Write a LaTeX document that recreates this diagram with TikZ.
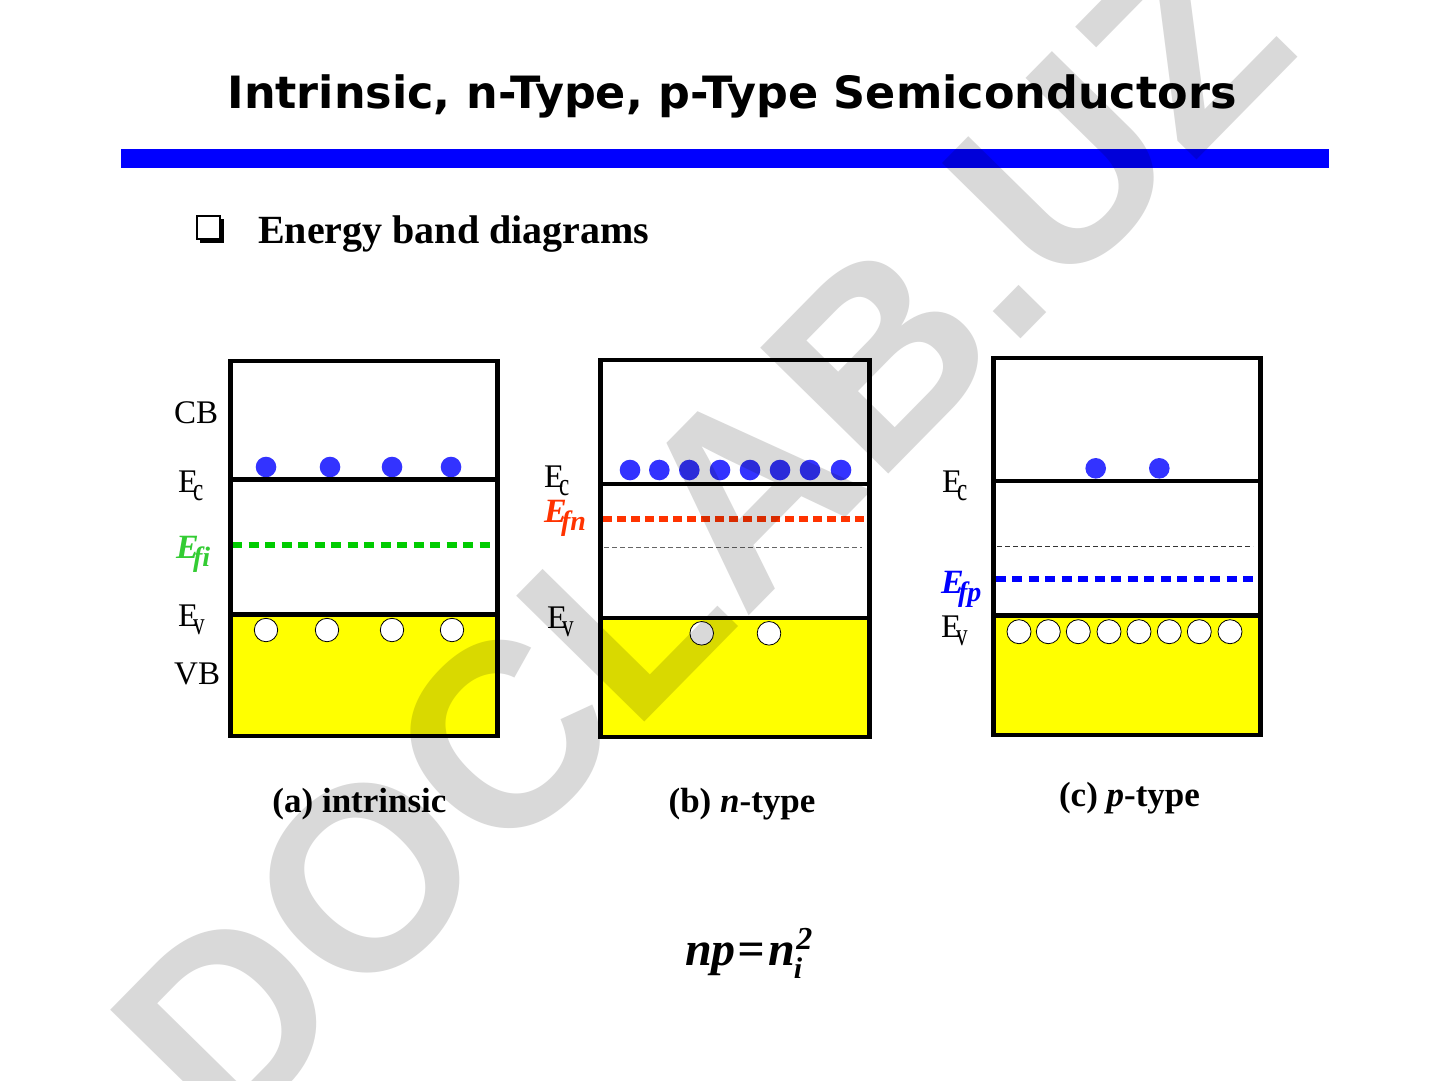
\documentclass[tikz,border=0pt]{standalone}
\usepackage{fontspec}
\setmainfont{Liberation Serif}
\newfontfamily\titlefont{DejaVu Sans}
\newfontfamily\wmfont{Liberation Sans}
\usepackage{graphicx}
\newcommand\fs[1]{\fontsize{#1}{#1}\selectfont}
% regular subscript (E_c, E_v)
\newcommand\rsub[1]{\kern-0.16em\raisebox{-0.25em}{\scalebox{1}[1.4]{\fs{23}#1}}}
% bold italic subscript (E_fi ...)
\newcommand\bsub[1]{\kern-0.17em\raisebox{-8pt}{\fs{28}\bfseries\itshape #1}}
\definecolor{elec}{RGB}{51,51,255}
\definecolor{grn}{RGB}{0,204,0}
\definecolor{grnlbl}{RGB}{51,204,51}
\definecolor{redf}{RGB}{255,51,0}
\definecolor{bluef}{RGB}{0,0,255}
\definecolor{wm}{RGB}{217,217,217}
\definecolor{ylw}{RGB}{255,255,0}
\begin{document}
\begin{tikzpicture}[x=1pt,y=-1pt,
  box/.style={draw=black,line width=4.5pt},
  level/.style={draw=black,line width=4.5pt},
  electron/.style={fill=elec},
  hole/.style={fill=white,draw=black,line width=0.8pt},
  fermi/.style={line width=6pt,dash pattern=on 10pt off 6.5pt},
  midgap/.style={line width=1.2pt,dash pattern=on 5pt off 3pt},
  lbl/.style={anchor=base west,inner sep=0pt,font=\fs{33}},
  flbl/.style={anchor=base west,inner sep=0pt,font=\fs{34}\bfseries\itshape},
  caption/.style={anchor=base,inner sep=0pt,font=\fs{35}\bfseries}]
\useasboundingbox (0,0) rectangle (1440,1080);
\fill[white] (0,0) rectangle (1440,1080);

% title and bar
\node[anchor=base,inner sep=0pt,font=\titlefont\bfseries\fs{44.5}] (title) at (732,108) {Intrinsic, n-Type, p-Type Semiconductors};
\fill[blue] (121,149) rectangle (1329,168);

% bullet
\fill[black] (199.5,218.5) rectangle (224,243);
\filldraw[fill=white,draw=black,line width=2.5pt] (197,216) rectangle (220,239);
\node[anchor=base west,inner sep=0pt,font=\fs{40}\bfseries] (sub) at (258,243) {Energy band diagrams};

% ---------- panel (a) ----------
\fill[ylw] (230.5,614.5) rectangle (497.5,736);
\foreach \x in {266,327,392,452} \filldraw[hole] (\x,630) circle (11.7);
\foreach \x in {266,330,392,451} \fill[electron] (\x,467) circle (10.3);
\draw[fermi,grn] (232,544.7) -- (495,544.7);
\draw[box] (230.5,361) rectangle (497.5,736);
\draw[level] (230.5,479.5) -- (497.5,479.5);
\draw[level] (230.5,614.5) -- (497.5,614.5);
\node[lbl] (cba) at (174,423) {CB};
\node[lbl] (eca) at (178,492) {E\rsub{c}};
\node[flbl,text=grnlbl] (efa) at (176,558) {E\bsub{fi}};
\node[lbl] (eva) at (178,626) {E\rsub{v}};
\node[lbl] (vba) at (174,684) {VB};
\node[caption] (capa) at (359.5,812) {(a) intrinsic};

% ---------- panel (b) ----------
\fill[ylw] (600.5,618) rectangle (869.5,737);
\foreach \x in {701.7,769} \filldraw[hole] (\x,633.3) circle (11.8);
\foreach \x in {630,659.3,689.3,720,750,780,810,841} \fill[electron] (\x,470) circle (10.3);
\draw[fermi,redf,dash pattern=on 8.5pt off 5.5pt] (603,518.7) -- (868,518.7);
\draw[midgap,black!60] (604,547.7) -- (862,547.7);
\draw[box] (600.5,360) rectangle (869.5,737);
\draw[level] (600.5,484) -- (869.5,484);
\draw[level] (600.5,618) -- (869.5,618);
\node[lbl] (ecb) at (544,487) {E\rsub{c}};
\node[flbl,text=redf] (efb) at (544,522) {E\bsub{fn}};
\node[lbl] (evb) at (547,628) {E\rsub{v}};
\node[caption] (capb) at (742,812) {(b) \textit{n}-type};

% ---------- panel (c) ----------
\fill[ylw] (993.5,615.5) rectangle (1260.5,735);
\foreach \x in {1019,1048.3,1078.3,1109,1139,1169.3,1199.3,1230} \filldraw[hole] (\x,631.7) circle (12);
\foreach \x in {1095.7,1159.3} \fill[electron] (\x,468.3) circle (10.3);
\draw[fermi,bluef] (995.7,579.3) -- (1258,579.3);
\draw[midgap,black!80,line width=1pt] (997,546.7) -- (1253,546.7);
\draw[box] (993.5,358) rectangle (1260.5,735);
\draw[level] (993.5,481) -- (1260.5,481);
\draw[level] (993.5,615.5) -- (1260.5,615.5);
\node[lbl] (ecc) at (942,492) {E\rsub{c}};
\node[flbl,text=bluef] (efc) at (941,593) {E\bsub{fp}};
\node[lbl] (evc) at (941,637) {E\rsub{v}};
\node[caption] (capc) at (1129.5,806) {(c) \textit{p}-type};

% equation
\node[anchor=base west,inner sep=0pt,font=\fs{48}\bfseries\itshape] (eq) at (685,965)
  {np\kern2pt=\kern3pt n\kern-1pt\raisebox{-13pt}{\fs{30}i}\kern-6pt\raisebox{16pt}{\fs{32}2}};

% watermark
\begin{scope}[blend mode=multiply]
\node[rotate=45.5,inner sep=0pt,text=wm,font=\wmfont\bfseries\fs{261}] (wmark) at (701,537) {DOCLAB.UZ};
\end{scope}
\end{tikzpicture}
\end{document}
